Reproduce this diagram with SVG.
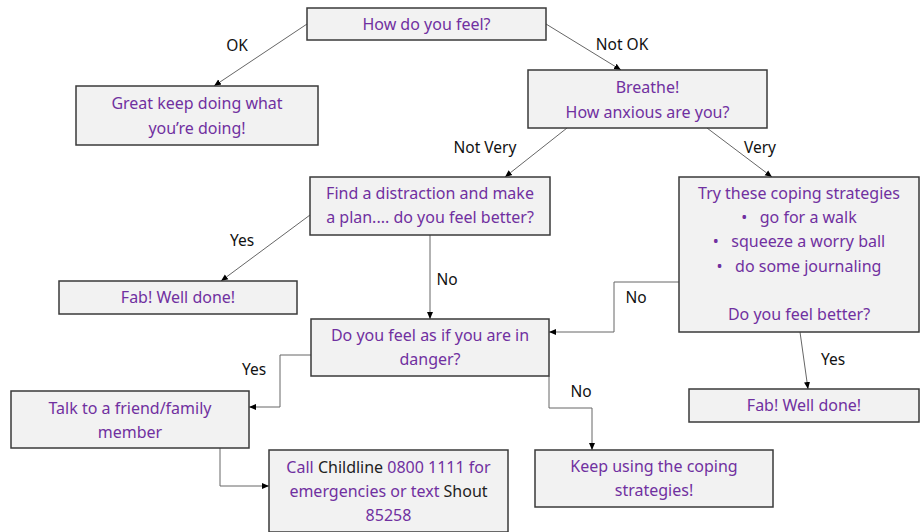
<svg xmlns="http://www.w3.org/2000/svg" width="920" height="532" viewBox="0 0 920 532">
<defs>
<marker id="arr" markerWidth="8" markerHeight="8" refX="7" refY="4" orient="auto" markerUnits="userSpaceOnUse">
<path d="M0,1 L7,4 L0,7 Z" fill="#000"/>
</marker>
<style>
.box{fill:#f2f2f2;stroke:#3a3a3a;stroke-width:1.5}
.t{font-family:"Noto Sans","Liberation Sans",sans-serif;font-size:16px;fill:#7030a0;text-anchor:middle}
.k{fill:#222}
.lbl{font-family:"Noto Sans","Liberation Sans",sans-serif;font-size:15.5px;fill:#111;text-anchor:middle}
.c{fill:none;stroke:#666;stroke-width:1;marker-end:url(#arr)}
</style>
</defs>
<rect width="920" height="532" fill="#fff"/>
<g id="connectors">
<line class="c" x1="307" y1="24" x2="214" y2="86"/>
<line class="c" x1="546" y1="24" x2="621" y2="70"/>
<line class="c" x1="567" y1="128" x2="505" y2="177"/>
<line class="c" x1="707" y1="128" x2="772" y2="177"/>
<line class="c" x1="310" y1="215" x2="221" y2="281"/>
<line class="c" x1="430" y1="235" x2="430" y2="319"/>
<polyline class="c" points="679,282 614,282 614,332 549,332"/>
<line class="c" x1="800" y1="332" x2="808" y2="389"/>
<polyline class="c" points="311,355 280,355 280,407 249,407"/>
<polyline class="c" points="549,376 549,408 592,408 592,450"/>
<polyline class="c" points="220,448 220,486 269,486"/>
<text class="lbl" x="237" y="51">OK</text>
<text class="lbl" x="622" y="50">Not OK</text>
<text class="lbl" x="485" y="153">Not Very</text>
<text class="lbl" x="760" y="153">Very</text>
<text class="lbl" x="242" y="246">Yes</text>
<text class="lbl" x="447" y="285">No</text>
<text class="lbl" x="636" y="303">No</text>
<text class="lbl" x="833" y="365">Yes</text>
<text class="lbl" x="254" y="375">Yes</text>
<text class="lbl" x="581" y="397">No</text>
</g>
<g id="n1"><rect class="box" x="307" y="8" width="239" height="32"/><text class="t" x="426.5" y="30">How do you feel?</text></g>
<g id="n2"><rect class="box" x="76" y="86" width="242" height="59"/><text class="t" x="197" y="109">Great keep doing what</text><text class="t" x="197" y="134">you’re doing!</text></g>
<g id="n3"><rect class="box" x="528" y="70" width="239" height="58"/><text class="t" x="647.5" y="93">Breathe!</text><text class="t" x="647.5" y="118">How anxious are you?</text></g>
<g id="n4"><rect class="box" x="310" y="177" width="240" height="58"/><text class="t" x="430" y="199">Find a distraction and make</text><text class="t" x="430" y="223">a plan.... do you feel better?</text></g>
<g id="n5"><rect class="box" x="679" y="177" width="240" height="155"/><text class="t" x="799" y="199">Try these coping strategies</text><text class="t" x="799" y="223">•&#160;&#160;&#160;go for a walk</text><text class="t" x="799" y="247">•&#160;&#160;&#160;squeeze a worry ball</text><text class="t" x="799" y="272">•&#160;&#160;&#160;do some journaling</text><text class="t" x="799" y="320">Do you feel better?</text></g>
<g id="n6"><rect class="box" x="59" y="281" width="238" height="33"/><text class="t" x="178" y="303">Fab! Well done!</text></g>
<g id="n7"><rect class="box" x="311" y="319" width="238" height="57"/><text class="t" x="430" y="341">Do you feel as if you are in</text><text class="t" x="430" y="365">danger?</text></g>
<g id="n8"><rect class="box" x="11" y="391" width="238" height="57"/><text class="t" x="130" y="414">Talk to a friend/family</text><text class="t" x="130" y="438">member</text></g>
<g id="n9"><rect class="box" x="269" y="450" width="239" height="82"/><text class="t" x="388.5" y="473">Call <tspan class="k">Childline</tspan> 0800 1111 for</text><text class="t" x="388.5" y="497">emergencies or text <tspan class="k">Shout</tspan></text><text class="t" x="388.5" y="521">85258</text></g>
<g id="n10"><rect class="box" x="535" y="450" width="238" height="57"/><text class="t" x="654" y="472">Keep using the coping</text><text class="t" x="654" y="496">strategies!</text></g>
<g id="n11"><rect class="box" x="689" y="389" width="230" height="33"/><text class="t" x="804" y="411">Fab! Well done!</text></g>
</svg>
